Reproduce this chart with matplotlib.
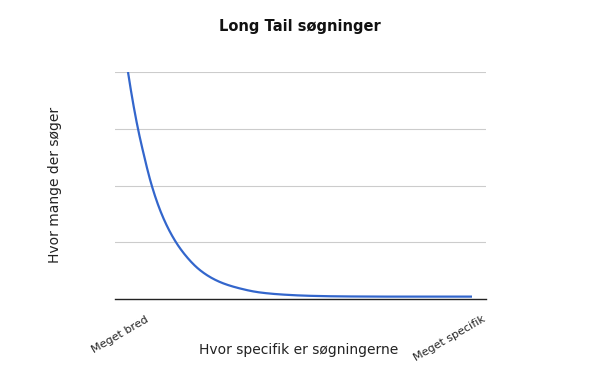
import numpy as np
import matplotlib.pyplot as plt

# curve: x runs 0 (broad) .. 1 (specific), y in grid units
spec = [0.0, 0.030, 0.0445, 0.069, 0.093, 0.1395, 0.171, 0.209, 0.267,
        0.326, 0.384, 0.45, 0.529, 0.62, 0.75, 1.0]
searches = [4.0, 2.97, 2.58, 2.0, 1.57, 1.0, 0.74, 0.51, 0.30,
            0.185, 0.115, 0.078, 0.056, 0.046, 0.042, 0.042]

tick_pos = [0.05, 1.028]
tick_labels = ['Meget bred', 'Meget specifik']

title = 'Long Tail søgninger'
xlabel = 'Hvor specifik er søgningerne'
ylabel = 'Hvor mange der søger'


def monotone(x, y, xs):
    # Fritsch-Carlson monotone cubic, so the smooth line keeps the read shape
    x = np.asarray(x, float); y = np.asarray(y, float)
    h = np.diff(x); d = np.diff(y) / h
    m = np.zeros_like(y)
    m[0], m[-1] = d[0], d[-1]
    for k in range(1, len(x) - 1):
        if d[k-1] * d[k] > 0:
            w1 = 2*h[k] + h[k-1]; w2 = h[k] + 2*h[k-1]
            m[k] = (w1 + w2) / (w1/d[k-1] + w2/d[k])
    i = np.clip(np.searchsorted(x, xs) - 1, 0, len(x) - 2)
    t = (xs - x[i]) / h[i]
    h00 = 2*t**3 - 3*t**2 + 1; h10 = t**3 - 2*t**2 + t
    h01 = -2*t**3 + 3*t**2; h11 = t**3 - t**2
    return h00*y[i] + h10*h[i]*m[i] + h01*y[i+1] + h11*h[i]*m[i+1]


fig = plt.figure(figsize=(6, 3.71), dpi=100)
ax = fig.add_axes([115/600, 1-299/371, 371/600, 227/371])

# interpolate in log space, the decay is close to straight there
xs = np.linspace(0, 1, 600)
ys = np.exp(monotone(spec, np.log(searches), xs))
ax.plot(xs, ys, color='#3366cc', lw=1.6, solid_capstyle='butt', zorder=3)

ax.set_xlim(-13/344, 1 + 14/344)
ax.set_ylim(0, 4)
for s in ax.spines.values():
    s.set_visible(False)
ax.set_yticks([1, 2, 3, 4])
ax.set_yticklabels([])
ax.tick_params(axis='y', length=0)
ax.grid(axis='y', color='#cccccc', lw=0.8)
ax.axhline(0, color='#222222', lw=1.0, zorder=4, clip_on=False)

ax.set_xticks(tick_pos)
ax.set_xticklabels(tick_labels, rotation=30, ha='right', va='top',
                   rotation_mode='anchor', fontsize=8, color='#222222')
ax.tick_params(axis='x', length=0, pad=11)

fig.text(0.5, 1-27/371, title, ha='center', va='center',
         fontsize=10.5, fontweight='bold', color='#111111')
fig.text(299/600, 1-350/371, xlabel, ha='center', va='center',
         fontsize=10, color='#222222')
fig.text(55/600, 1-185/371, ylabel, ha='center', va='center',
         rotation=90, fontsize=10, color='#222222')

fig.savefig('out.png', dpi=100)
